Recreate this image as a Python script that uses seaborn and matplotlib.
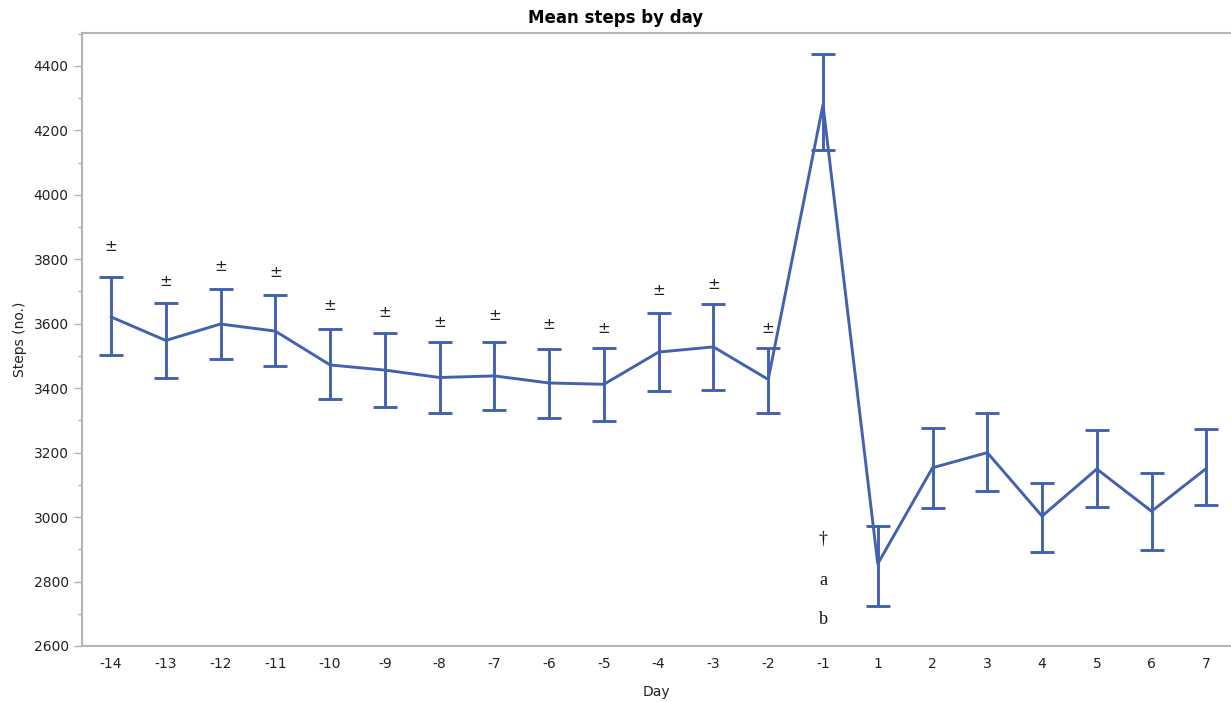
import matplotlib
matplotlib.use("Agg")
import matplotlib.pyplot as plt
import seaborn as sns
import numpy as np
import pandas as pd
from matplotlib.ticker import MultipleLocator

days = ["-14", "-13", "-12", "-11", "-10", "-9", "-8", "-7", "-6", "-5", "-4",
        "-3", "-2", "-1", "1", "2", "3", "4", "5", "6", "7"]
mean_steps = [3621, 3548, 3599, 3577, 3472, 3456, 3433, 3438, 3416, 3412, 3512,
              3528, 3427, 4279, 2855, 3153, 3200, 3003, 3149, 3018, 3151]
upper = [3745, 3665, 3708, 3688, 3582, 3570, 3542, 3544, 3523, 3525, 3633,
         3662, 3525, 4437, 2971, 3275, 3322, 3107, 3271, 3137, 3273]
lower = [3502, 3430, 3489, 3468, 3365, 3343, 3322, 3331, 3306, 3297, 3392,
         3395, 3324, 4139, 2723, 3027, 3080, 2892, 3030, 2897, 3036]
pm_days = ["-14", "-13", "-12", "-11", "-10", "-9", "-8", "-7", "-6", "-5", "-4", "-3", "-2"]
pm_y = [3841, 3732, 3777, 3758, 3655, 3635, 3603, 3624, 3598, 3585, 3702, 3723, 3585]
note_day = "-1"
note_labels = ["†", "a", "b"]
note_y = [2931, 2804, 2683]

color = "#4262b0"
gray = "#b4b4b4"

sns.set_theme(style="white")
plt.rcParams["font.family"] = ["DejaVu Sans"]

fig = plt.figure(figsize=(12.31, 7.02), dpi=100)
ax = fig.add_axes([0.0666, 0.0798, 0.9334, 0.8732])

pos = np.arange(len(days))
df = pd.DataFrame({"pos": pos, "mean": mean_steps})
sns.lineplot(data=df, x="pos", y="mean", ax=ax, color=color, linewidth=2.1)

m = np.array(mean_steps)
err = np.vstack([m - np.array(lower), np.array(upper) - m])
ax.errorbar(pos, m, yerr=err, fmt="none", ecolor=color, elinewidth=2.1,
            capsize=8.3, capthick=2.1)

for d, y in zip(pm_days, pm_y):
    ax.text(days.index(d), y, "±", ha="center", va="center", fontsize=11, color="#222222")
for lab, y in zip(note_labels, note_y):
    ax.text(days.index(note_day), y, lab, ha="center", va="center", fontsize=13,
            family="Liberation Serif", color="#111111")

ax.set_xlim(-0.53, 20.45)
ax.set_ylim(2600, 4502)
ax.set_xticks(pos)
ax.set_xticklabels(days)
ax.yaxis.set_major_locator(MultipleLocator(200))
ax.yaxis.set_minor_locator(MultipleLocator(100))
ax.tick_params(axis="y", which="major", length=6, width=1, color=gray, labelsize=10,
               labelcolor="#222222", left=True, direction="out")
ax.tick_params(axis="y", which="minor", length=3, width=1, color=gray, left=True, direction="out")
ax.tick_params(axis="x", which="major", length=0, labelsize=10, labelcolor="#222222", pad=8)

for side in ["left", "bottom", "top"]:
    ax.spines[side].set_color(gray)
    ax.spines[side].set_linewidth(1.5)
ax.spines["right"].set_visible(False)

ax.set_xlabel("Day", fontsize=10, color="#222222", labelpad=10)
ax.set_ylabel("Steps (no.)", fontsize=10, color="#222222", labelpad=5)
fig.text(0.5, 0.974, "Mean steps by day", ha="center", va="center",
         fontsize=12, fontweight="bold", color="black")

fig.savefig("out.png", dpi=100)
